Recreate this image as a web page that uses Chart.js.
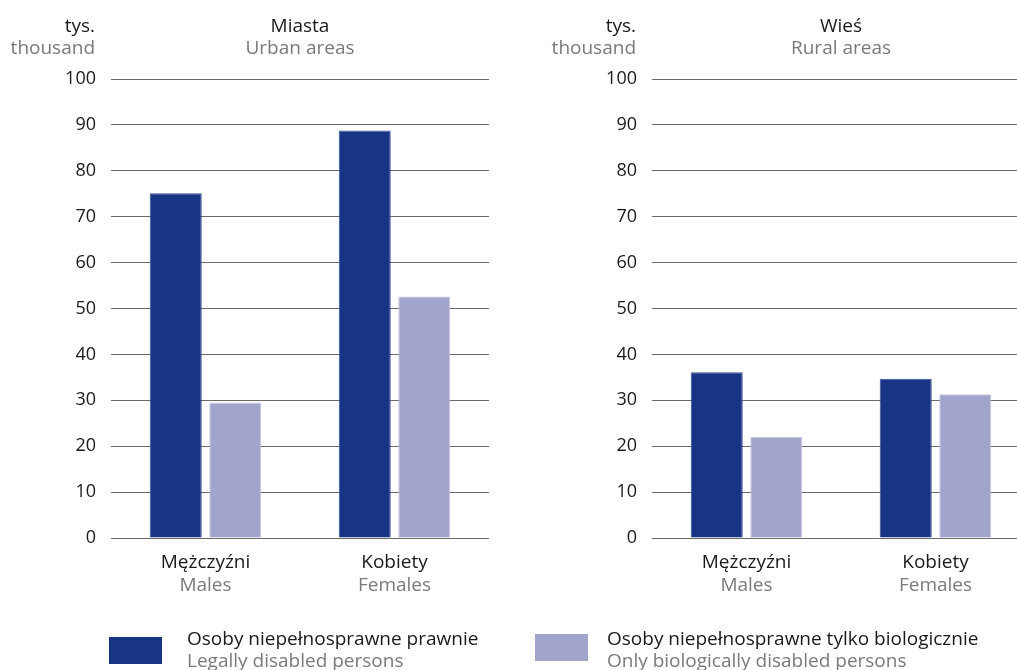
<!DOCTYPE html>
<html>
<head>
<meta charset="utf-8">
<script src="https://cdn.jsdelivr.net/npm/chart.js@4"></script>
<style>
  html, body { margin: 0; padding: 0; background: #fff; width: 1017px; height: 670px; overflow: hidden; }
  #wrap { position: relative; width: 1017px; height: 670px; overflow: hidden; font-family: "Open Sans", sans-serif; }
  canvas { position: absolute; top: 0; }
  .leg { position: absolute; font-size: 19px; line-height: 22px; }
  .leg .box { position: absolute; width: 53px; height: 27px; }
  .leg .pl { position: absolute; color: #1a1a1a; white-space: nowrap; }
  .leg .en { position: absolute; color: #7a7a7a; white-space: nowrap; }
</style>
</head>
<body>
<div id="wrap">
  <canvas id="urbanChart" width="500" height="670" style="left:0"></canvas>
  <canvas id="ruralChart" width="500" height="670" style="left:541px"></canvas>
  <div class="leg" style="left:109px; top:632px;">
    <div class="box" style="left:0; top:5px; background:#183584"></div>
    <div class="pl" style="left:78px; top:-5px;">Osoby niepełnosprawne prawnie</div>
    <div class="en" style="left:78px; top:17px;">Legally disabled persons</div>
  </div>
  <div class="leg" style="left:535px; top:632px;">
    <div class="box" style="left:0; top:2px; background:#a2a5cb"></div>
    <div class="pl" style="left:72px; top:-5px;">Osoby niepełnosprawne tylko biologicznie</div>
    <div class="en" style="left:72px; top:17px;">Only biologically disabled persons</div>
  </div>
</div>
<script>
// Dane
const categoriesPl = ['Mężczyźni', 'Kobiety'];
const categoriesEn = ['Males', 'Females'];
const urbanLegal = [75.1, 88.8];
const urbanBio = [29.5, 52.6];
const ruralLegal = [36.1, 34.7];
const ruralBio = [22.0, 31.3];
const yMin = 0;
const yMax = 100;
const yStep = 10;

const seriesLabels = ['Osoby niepełnosprawne prawnie', 'Osoby niepełnosprawne tylko biologicznie'];
const darkColor = '#183584';
const lightColor = '#a2a5cb';
const font = '"Open Sans", sans-serif';

// Titres + etiquettes des categories (deux lignes, deux couleurs)
const textPlugin = {
    id: 'textPlugin',
    afterDraw(chart, args, opts) {
        const ctx = chart.ctx;
        const area = chart.chartArea;
        const xScale = chart.scales.x;
        ctx.save();
        ctx.font = '19px ' + font;
        ctx.textBaseline = 'alphabetic';

        // titre
        const cx = (area.left + area.right) / 2;
        ctx.textAlign = 'center';
        ctx.fillStyle = '#1a1a1a';
        ctx.fillText(opts.titlePl, cx, 32);
        ctx.fillStyle = '#7a7a7a';
        ctx.fillText(opts.titleEn, cx, 54);

        // unite
        ctx.textAlign = 'right';
        ctx.fillStyle = '#1a1a1a';
        ctx.fillText('tys.', area.left - 16, 32);
        ctx.fillStyle = '#7a7a7a';
        ctx.fillText('thousand', area.left - 16, 54);

        // categories
        ctx.textAlign = 'center';
        categoriesPl.forEach((c, i) => {
            const x = xScale.getPixelForValue(i);
            ctx.fillStyle = '#1a1a1a';
            ctx.fillText(c, x, area.bottom + 30);
            ctx.fillStyle = '#7a7a7a';
            ctx.fillText(categoriesEn[i], x, area.bottom + 53);
        });
        ctx.restore();
    }
};

function makeChart(id, legal, bio, titlePl, titleEn) {
    const ctx = document.getElementById(id);
    return new Chart(ctx, {
        type: 'bar',
        data: {
            labels: categoriesPl,
            datasets: [{
                label: seriesLabels[0],
                data: legal,
                backgroundColor: darkColor,
                borderColor: '#3a519a',
                borderWidth: 1,
                categoryPercentage: 0.63,
                barPercentage: 0.874
            }, {
                label: seriesLabels[1],
                data: bio,
                backgroundColor: lightColor,
                borderColor: '#c6c8e0',
                borderWidth: 1,
                categoryPercentage: 0.63,
                barPercentage: 0.874
            }]
        },
        options: {
            responsive: false,
            animation: false,
            layout: {
                padding: { left: 0, right: 11, top: 79, bottom: 0 }
            },
            plugins: {
                legend: { display: false },
                tooltip: { enabled: false },
                textPlugin: { titlePl: titlePl, titleEn: titleEn }
            },
            scales: {
                x: {
                    grid: { display: false },
                    border: { display: false },
                    ticks: { display: false },
                    afterFit: (scale) => { scale.height = 132; }
                },
                y: {
                    min: yMin,
                    max: yMax,
                    grid: {
                        color: '#6b6b6b',
                        lineWidth: 1,
                        drawTicks: false
                    },
                    border: { display: false },
                    ticks: {
                        stepSize: yStep,
                        padding: 15,
                        color: '#1a1a1a',
                        font: { family: font, size: 18 }
                    },
                    afterFit: (scale) => { scale.width = 111; }
                }
            }
        },
        plugins: [textPlugin]
    });
}

makeChart('urbanChart', urbanLegal, urbanBio, 'Miasta', 'Urban areas');
makeChart('ruralChart', ruralLegal, ruralBio, 'Wieś', 'Rural areas');
</script>
</body>
</html>
